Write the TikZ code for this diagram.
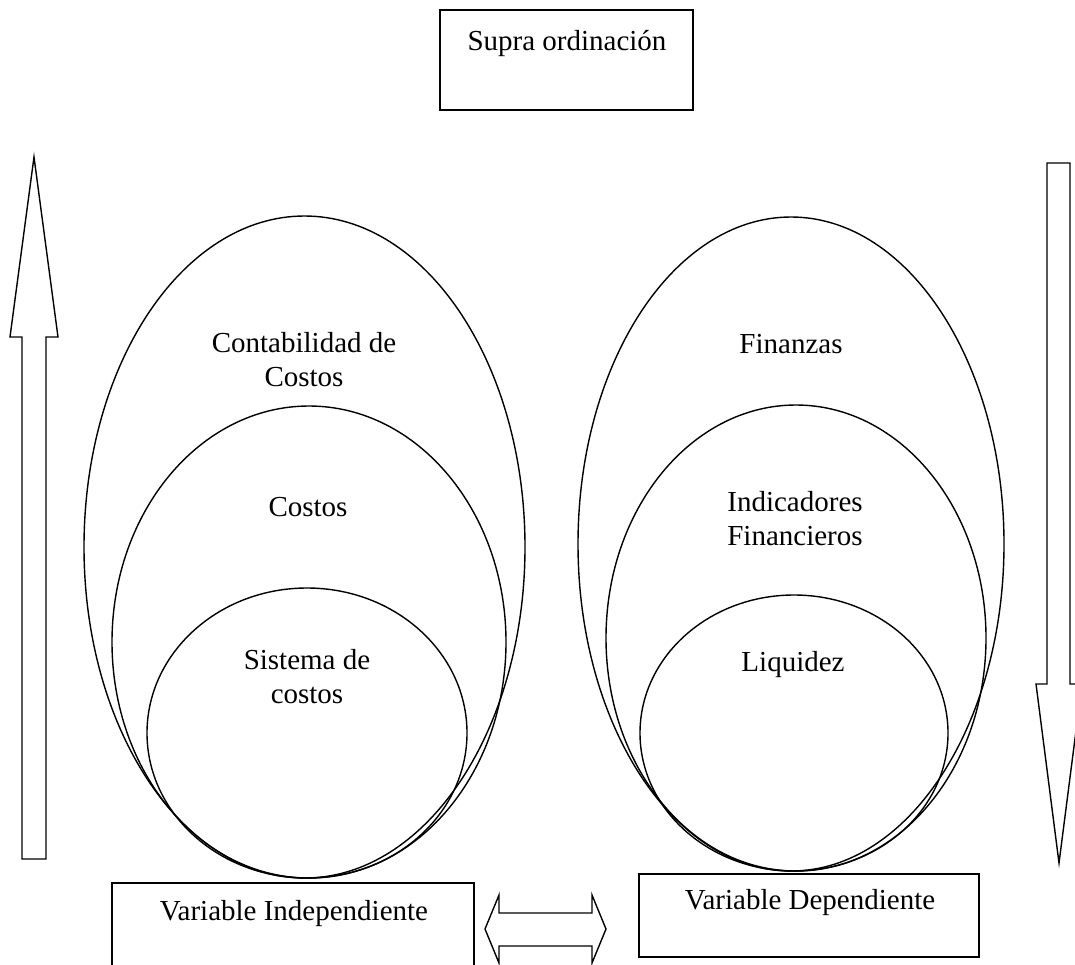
\documentclass[tikz,border=0pt]{standalone}
\usepackage{fontspec}
\setmainfont{Liberation Serif}
\usetikzlibrary{shapes.geometric}
\begin{document}
\begin{tikzpicture}[x=1pt,y=-1pt,
  line width=1.4pt, line join=miter,
  lbl/.style={font=\fontsize{29}{34}\selectfont, align=center, inner sep=0pt},
  oval/.style={draw, ellipse, inner sep=0pt, outer sep=0pt},
  frame/.style={draw, rectangle, inner sep=0pt, outer sep=0pt, anchor=north west},
  blockarrow/.style={draw}
]
\useasboundingbox (0,0) rectangle (1075,964);
\clip (0,0) rectangle (1075,964);

% top box
\node[frame, minimum width=253pt, minimum height=100pt] (supra) at (440,10) {};
\node[lbl, anchor=base] (supratxt) at (567,50) {Supra ordinación};

% vertical block arrows
\draw[blockarrow] (22,859) -- (22,337) -- (10,337) -- (34,157) -- (58,337) -- (46,337) -- (46,859) -- cycle;
\draw[blockarrow] (1047,163) -- (1070,163) -- (1070,684) -- (1082,684) -- (1059,863) -- (1036,684) -- (1047,684) -- cycle;

% left ellipses
\node[oval, minimum width=441pt, minimum height=662pt] (contab) at (304.5,547) {};
\node[oval, minimum width=394pt, minimum height=472pt] (costos) at (309,642) {};
\node[oval, minimum width=320pt, minimum height=290pt] (sistema) at (307,733) {};
\node[lbl] (contabtxt) at (304,360) {Contabilidad de\\Costos};
\node[lbl] (costostxt) at (308,507) {Costos};
\node[lbl] (sistematxt) at (307,677) {Sistema de\\costos};

% right ellipses
\node[oval, minimum width=426pt, minimum height=654pt] (finanzas) at (791,544) {};
\node[oval, minimum width=380pt, minimum height=466pt] (indic) at (796,638) {};
\node[oval, minimum width=308pt, minimum height=276pt] (liquidez) at (794,733) {};
\node[lbl] (finanzastxt) at (791,344) {Finanzas};
\node[lbl] (indictxt) at (795,519) {Indicadores\\Financieros};
\node[lbl] (liquideztxt) at (793,665) {Liquidez};

% bottom boxes
\node[frame, minimum width=362pt, minimum height=120pt] (vind) at (112,883) {};
\node[lbl] (vindtxt) at (294,914) {Variable Independiente};
\node[frame, minimum width=340pt, minimum height=83pt] (vdep) at (639,874) {};
\node[lbl] (vdeptxt) at (810,903) {Variable Dependiente};

% double arrow
\draw[blockarrow] (485,929) -- (499,895) -- (499,913) -- (592,913) -- (592,895) -- (606,929)
  -- (592,963) -- (592,946) -- (499,946) -- (499,963) -- cycle;
\end{tikzpicture}
\end{document}
